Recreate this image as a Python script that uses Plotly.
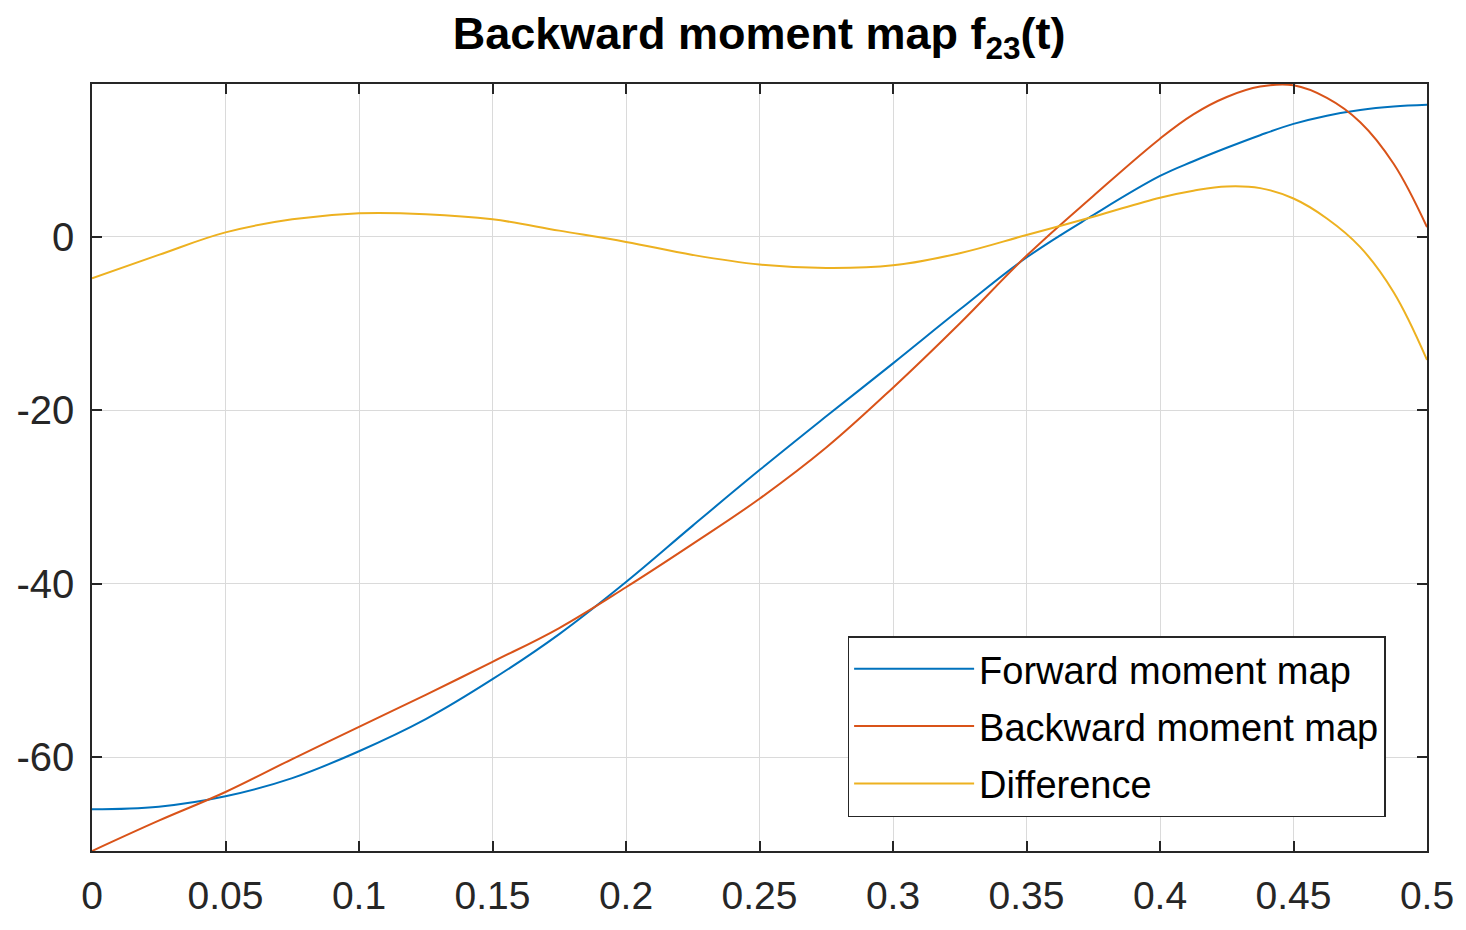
import plotly.graph_objects as go

# time samples (s)
t = [0, 0.025, 0.05, 0.075, 0.1, 0.125, 0.15, 0.175, 0.2, 0.225, 0.25,
     0.275, 0.3, 0.325, 0.35, 0.375, 0.4, 0.4125, 0.425, 0.4375, 0.45,
     0.4625, 0.475, 0.4875, 0.5]

forward = [-66.0, -65.7, -64.5, -62.4, -59.3, -55.6, -51.0, -45.8, -39.8,
           -33.3, -26.9, -20.7, -14.6, -8.4, -2.4, 2.5, 7.0, 8.7, 10.25,
           11.7, 13.0, 13.95, 14.6, 15.0, 15.2]

backward = [-70.8, -67.3, -64.0, -60.2, -56.5, -52.8, -49.0, -45.1, -40.4,
            -35.4, -30.2, -24.3, -17.4, -10.0, -2.2, 4.7, 11.3, 14.1, 16.1,
            17.3, 17.45, 16.0, 13.2, 8.4, 1.1]

difference = [-4.8, -2.1, 0.5, 2.0, 2.7, 2.6, 2.0, 0.7, -0.6, -2.1, -3.2,
              -3.6, -3.3, -1.9, 0.2, 2.3, 4.5, 5.3, 5.8, 5.6, 4.4, 2.1,
              -1.2, -6.4, -14.2]

x_ticks = [0, 0.05, 0.1, 0.15, 0.2, 0.25, 0.3, 0.35, 0.4, 0.45, 0.5]
x_ticklabels = ["0", "0.05", "0.1", "0.15", "0.2", "0.25", "0.3", "0.35",
                "0.4", "0.45", "0.5"]
y_ticks = [-60, -40, -20, 0]
y_ticklabels = ["-60", "-40", "-20", "0"]

FONT = "Liberation Sans, Arial, Helvetica, sans-serif"

series = [
    ("Forward moment map", forward, "#0072BD"),
    ("Backward moment map", backward, "#D95319"),
    ("Difference", difference, "#EDB120"),
]

fig = go.Figure()
for name, vals, color in series:
    fig.add_trace(go.Scatter(
        x=t, y=vals, mode="lines", name=name, legendgroup=name,
        line=dict(color=color, width=2, shape="spline", smoothing=1.1),
    ))

axis_common = dict(
    showline=True, linecolor="#262626", linewidth=1.5, mirror="ticks",
    ticks="inside", ticklen=10, tickwidth=1.5, tickcolor="#262626",
    showgrid=True, gridcolor="#dadada", gridwidth=1, zeroline=False,
    automargin=False,
    tickfont=dict(family=FONT, size=40, color="#262626"),
)

fig.update_xaxes(range=[0, 0.5], tickvals=x_ticks, ticktext=x_ticklabels,
                 ticklabelstandoff=9, **axis_common)
fig.update_xaxes(tickfont_size=39)
fig.update_yaxes(range=[-70.8, 17.6], tickvals=y_ticks, ticktext=y_ticklabels,
                 ticklabelstandoff=8, **axis_common)

# page body adds ~8px margin, so the figure is sized to fit the window
fig.update_layout(
    width=1450, height=914,
    margin=dict(l=84, r=31, t=76, b=71),
    paper_bgcolor="white", plot_bgcolor="white",
    title=dict(text="<b>Backward moment map f<sub>23</sub>(t)</b>",
               x=0.518, xanchor="center", y=0.972, yanchor="middle",
               font=dict(family=FONT, size=45, color="black")),
    legend=dict(x=0.566, y=0.2803, xanchor="left", yanchor="top",
                bgcolor="white", bordercolor="#262626", borderwidth=1.5,
                font=dict(family=FONT, size=38, color="black"),
                itemwidth=120, tracegroupgap=5),
    showlegend=True,
)

fig.write_html("out.html")
